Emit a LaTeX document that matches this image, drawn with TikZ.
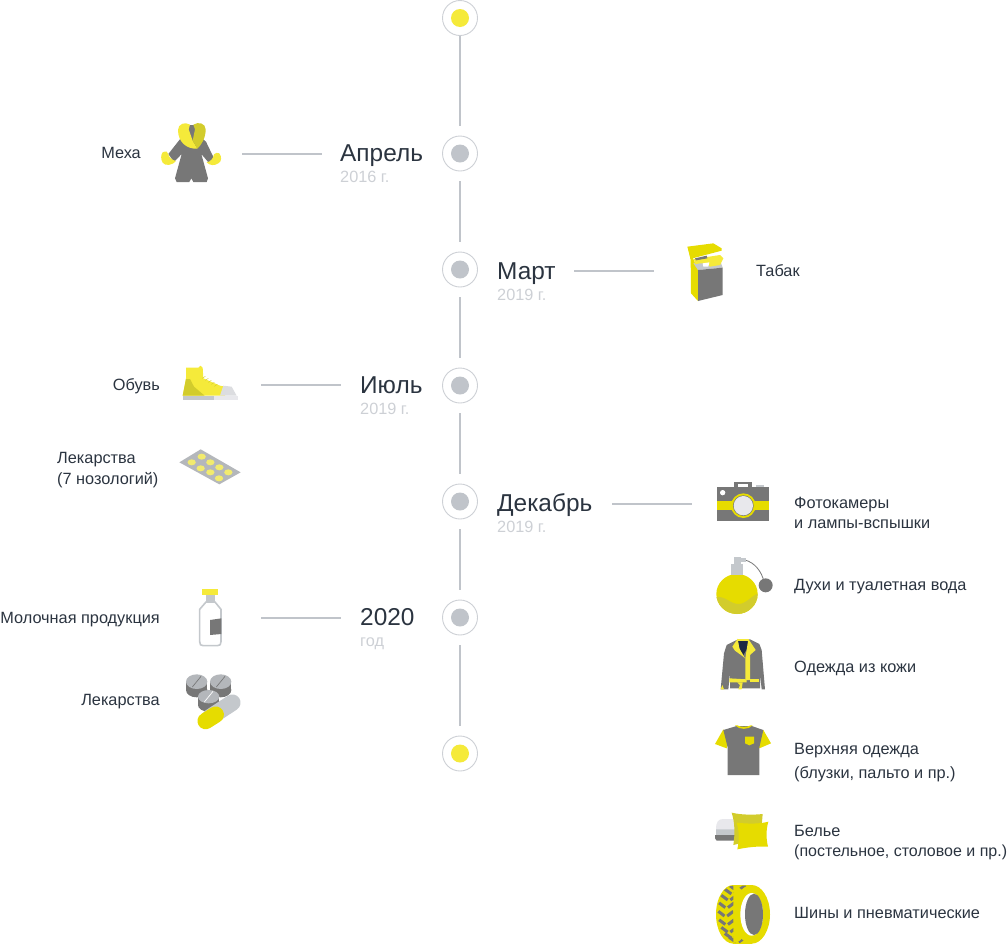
\documentclass[tikz,border=0pt]{standalone}
\usepackage{fontspec}
\setmainfont{Liberation Sans}
\definecolor{ink}{HTML}{2B3440}
\definecolor{yearc}{HTML}{CDD0D5}
\definecolor{linec}{HTML}{C0C4CA}
\definecolor{ringc}{HTML}{CDD0D5}
\definecolor{ylw}{HTML}{E6DC00}
\definecolor{ylwl}{HTML}{F5EA3A}
\definecolor{ylwd}{HTML}{D2CC2C}
\definecolor{gr}{HTML}{777777}
\definecolor{lg}{HTML}{C4C8CC}
\definecolor{mg}{HTML}{B4B7BB}
\definecolor{vlg}{HTML}{E8E8EC}
\definecolor{toe}{HTML}{DCDDE0}
\definecolor{pill}{HTML}{F2EB6E}
\definecolor{navy}{HTML}{1D2A44}
\tikzset{
  lab/.style={anchor=base west,inner sep=0pt,text=ink,font=\fontsize{16.3}{18}\selectfont},
  labr/.style={anchor=base east,inner sep=0pt,text=ink,font=\fontsize{16.3}{18}\selectfont},
  ttl/.style={anchor=base west,inner sep=0pt,text=ink,font=\fontsize{24.4}{26}\selectfont},
  yr/.style={anchor=base west,inner sep=0pt,text=yearc,font=\fontsize{16.3}{18}\selectfont},
  ring/.style={circle,draw=ringc,line width=0.9pt,fill=white,minimum size=35pt,inner sep=0pt},
  tline/.style={draw=linec,line width=2pt},
  hline/.style={draw=linec,line width=1.4pt},
  ic/.style={shift={#1},scale=0.33333}
}
\begin{document}
\begin{tikzpicture}[x=1pt,y=-1pt]
\useasboundingbox (0,0) rectangle (1007,943);
% timeline
\foreach \n/\y in {c0/18,c1/153.5,c2/269.5,c3/385.5,c4/501.5,c5/617.5,c6/753.5}{
  \node[ring] (\n) at (460,\y) {};
}
\foreach \n/\c in {c0/ylwl,c1/linec,c2/linec,c3/linec,c4/linec,c5/linec,c6/ylwl}{
  \fill[\c] (\n.center) circle[radius=9];
}
\draw[tline,shorten <=0.5pt,shorten >=10pt] (c0) -- (c1);
\draw[tline,shorten <=10pt,shorten >=10pt] (c1) -- (c2);
\draw[tline,shorten <=10pt,shorten >=10pt] (c2) -- (c3);
\draw[tline,shorten <=10pt,shorten >=10pt] (c3) -- (c4);
\draw[tline,shorten <=10pt,shorten >=10pt] (c4) -- (c5);
\draw[tline,shorten <=10pt,shorten >=10pt] (c5) -- (c6);
% titles
\node[ttl] (t1) at (340,161) {Апрель};
\node[yr] (y1) at (340,182) {2016 г.};
\node[ttl] (t2) at (497,279) {Март};
\node[yr] (y2) at (497,300) {2019 г.};
\node[ttl] (t3) at (360,393) {Июль};
\node[yr] (y3) at (360,414) {2019 г.};
\node[ttl] (t4) at (497,511) {Декабрь};
\node[yr] (y4) at (497,532) {2019 г.};
\node[ttl] (t5) at (360,625) {2020};
\node[yr] (y5) at (360,646) {год};
% connectors
\coordinate (a1) at (242,154); \coordinate (b1) at (322,154);
\coordinate (a2) at (574,271); \coordinate (b2) at (654,271);
\coordinate (a3) at (261,385); \coordinate (b3) at (341,385);
\coordinate (a4) at (612,504); \coordinate (b4) at (692,504);
\coordinate (a5) at (261,618); \coordinate (b5) at (341,618);
\foreach \i in {1,...,5}{\draw[hline] (a\i) -- (b\i);}
% labels
\node[labr] (l1) at (141,158) {Меха};
\node[lab] (l2) at (756,276) {Табак};
\node[labr] (l3) at (160,390) {Обувь};
\node[lab] (l4) at (57,463) {Лекарства};
\node[lab] (l5) at (57,484) {(7 нозологий)};
\node[labr] (l6) at (160,623) {Молочная продукция};
\node[labr] (l7) at (160,705) {Лекарства};
\node[lab] (r1) at (794,508) {Фотокамеры};
\node[lab] (r2) at (794,528) {и лампы-вспышки};
\node[lab] (r3) at (794,590) {Духи и туалетная вода};
\node[lab] (r4) at (794,672) {Одежда из кожи};
\node[lab] (r5) at (794,754) {Верхняя одежда};
\node[lab] (r6) at (794,778) {(блузки, пальто и пр.)};
\node[lab] (r7) at (794,836) {Белье};
\node[lab,font=\fontsize{16}{18}\selectfont] (r8) at (794,856) {(постельное, столовое и пр.)};
\node[lab] (r9) at (794,918) {Шины и пневматические};
% coat
\begin{scope}[ic={(150,110)}]
\fill[gr] (92,85)--(55,132)--(72,156)--(95,132)--(75,205)--(80,216)--(118,216)--(124,205)--(130,216)--(170,216)--(174,205)--(154,132)--(176,158)--(192,145)--(168,95)--(150,80)--cycle;
\fill[ylwl] (38,127) .. controls (48,122) and (55,125) .. (55,133) .. controls (57,142) and (65,150) .. (78,153) .. controls (70,165) and (45,170) .. (38,158) .. controls (32,148) and (32,135) .. (38,127) -- cycle;
\fill[ylwl] (208,130) .. controls (216,140) and (215,155) .. (205,160) .. controls (195,167) and (180,168) .. (170,157) .. controls (182,155) and (190,145) .. (192,133) .. controls (196,128) and (203,127) .. (208,130) -- cycle;
\fill[gr] (112,45) rectangle (138,95);
\fill[ylwl] (84,60) .. controls (84,42) and (105,34) .. (120,44) -- (116,58) -- (128,92) -- (142,116) .. controls (112,118) and (84,98) .. (84,60) -- cycle;
\fill[ylwd] (130,44) .. controls (145,34) and (167,40) .. (167,58) .. controls (167,84) and (155,104) .. (142,116) -- (128,92) -- (135,58) -- cycle;
\end{scope}
% shoe and blister
\begin{scope}[ic={(170,355)}]
\fill[ylwl] (48,38)--(85,38)--(92,32)--(98,38)--(100,70)--(150,92)--(165,95)--(165,122)--(38,122)--(48,70)--cycle;
\fill[ylwd] (48,72)--(38,122)--(104,122)--(72,95)--(60,72)--cycle;
\fill[toe] (160,92)--(185,95)--(200,122)--(150,122)--cycle;
\fill[lg] (38,122) rectangle (133,134);
\fill[vlg] (133,122) rectangle (205,134);
\foreach \k in {0,1,2,3,4}{\draw[ylwd,line width=.4pt] (97+9*\k,70+6*\k)--(106+9*\k,64+6*\k);}
\fill[mg] (92,283)--(212,352)--(148,388)--(28,322)--cycle;
\foreach \x/\y in {95/305,65/322,121/322,92/340,148/337,121/352,175/352,147/370}{
  \fill[pill] (\x,\y) ellipse [x radius=12.5,y radius=9];
}
\end{scope}
% bottle and pills
\begin{scope}[ic={(170,580)}]
\fill[ylwl] (97,27) rectangle (145,44);
\fill[lg] (108,44) -- (135,44) -- (135,62) -- (108,62) -- cycle;
\draw[lg,line width=1.6pt,fill=white,line join=round] (108,66) -- (135,66) -- (153,88) -- (153,185) .. controls (153,194) and (150,197) .. (142,197) -- (100,197) .. controls (92,197) and (89,194) .. (89,185) -- (89,88) -- cycle;
\fill[gr] (120,120)--(154,115)--(154,162)--(120,165)--cycle;
\foreach \x/\y/\ry/\c in {80/305/22/gr,152/305/22/gr,116/350/20/white}{
  \fill[gr] (\x,\y+25) ellipse [x radius=32,y radius=\ry];
  \fill[gr] (\x-32,\y) rectangle (\x+32,\y+25);
  \fill[mg] (\x,\y) ellipse [x radius=32,y radius=\ry];
  \draw[\c,line width=.7pt] (\x-13,\y+16)--(\x+13,\y-16);
}
\draw[lg,line width=16.5pt,line cap=round] (120,412)--(187,368);
\draw[ylw,line width=16.5pt,line cap=round] (107,423)--(137,404);
\end{scope}
% cigarette pack
\begin{scope}[ic={(670,235)}]
\fill[ylw] (54,38)--(70,72)--(84,105)--(84,198)--(63,175)--(62,75)--cycle;
\fill[lg] (70,85)--(150,75)--(158,98)--(84,105)--cycle;
\fill[gr] (84,105)--(158,98)--(158,180)--(84,198)--cycle;
\fill[ylwl] (72,72)--(150,60)--(160,70)--(150,90)--(120,95)--(110,85)--(90,85)--(75,88)--cycle;
\fill[white] (98,85)--(118,82)--(115,95)--(100,95)--cycle;
\fill[ylw] (52,35)--(130,25)--(155,40)--(155,47)--(75,68)--(62,72)--cycle;
\fill[gr] (75,70)--(110,62)--(112,70)--(78,76)--cycle;
\end{scope}
% camera and perfume
\begin{scope}[ic={(700,470)}]
\fill[gr] (103,37) rectangle (155,55);
\fill[white] (113,43) rectangle (145,50);
\fill[lg] (168,44) rectangle (192,55);
\fill[gr] (52,52) rectangle (207,152);
\fill[ylw] (52,92) rectangle (207,120);
\fill[ylw] (130,107) circle[radius=37];
\fill[gr] (130,107) circle[radius=31];
\fill[vlg] (130,107) circle[radius=29];
\fill[white] (68,68) circle[radius=8];
% perfume
\draw[gr,line width=.8pt] (135,270) .. controls (165,278) and (185,305) .. (192,335);
\fill[gr] (197,346) circle[radius=21];
\fill[lg] (103,262) rectangle (122,285);
\fill[lg] (120,265) rectangle (137,275);
\fill[ylw] (94,315) rectangle (130,345);
\fill[ylw] (111,372) ellipse [x radius=62,y radius=60];
\begin{scope}
\clip (111,372) ellipse [x radius=62,y radius=60];
\fill[ylwd] (45,382) .. controls (75,375) and (90,402) .. (115,402) .. controls (140,402) and (155,375) .. (180,368) -- (180,440) -- (45,440) -- cycle;
\end{scope}
\fill[lg] (93,282) rectangle (130,315);
\end{scope}
% jacket and shirt
\begin{scope}[ic={(700,630)}]
\fill[gr] (110,30)--(80,45)--(72,70)--(62,178)--(85,178)--(90,130)--(90,175)--(180,175)--(180,130)--(185,178)--(195,178)--(185,60)--(178,42)--(150,28)--cycle;
\fill[navy] (113,32)--(145,30)--(142,55)--(130,75)--(120,60)--cycle;
\fill[ylwl] (97,50)--(113,26)--(118,55)--(135,85)--(127,78)--(105,62)--cycle;
\fill[ylwl] (113,26)--(147,26)--(147,32)--(113,32)--cycle;
\fill[ylwl] (145,27)--(167,60)--(150,75)--(150,150)--(136,150)--(136,85)--cycle;
\fill[ylwl] (88,145)--(140,148)--(140,157)--(88,157)--cycle;
\fill[ylwl] (150,148)--(178,148)--(178,155)--(150,155)--cycle;
\fill[ylwl] (112,157)--(128,157)--(125,178)--(115,178)--(120,165)--cycle;
\fill[ylwl] (67,165)--(72,178)--(62,178)--cycle;
\fill[ylw] (70,298)--(45,342)--(80,355)--(88,330)--cycle;
\fill[ylw] (190,300)--(213,340)--(178,355)--(172,325)--cycle;
\fill[gr] (70,300)--(110,288)--(155,288)--(190,300)--(178,352)--(178,435)--(83,435)--(83,352)--cycle;
\fill[ylw] (105,286) .. controls (118,300) and (145,300) .. (158,286) -- (152,286) .. controls (142,292) and (122,292) .. (112,286) -- cycle;
\fill[ylw] (135,320)--(162,320)--(162,340)--(148,346)--(135,340)--cycle;
\end{scope}
% bedding and tyre
\begin{scope}[ic={(700,800)}]
\fill[gr] (45,105)--(105,105)--(105,122)--(50,122)--(45,115)--cycle;
\fill[lg] (48,88) rectangle (105,105);
\fill[vlg] (48,88) .. controls (48,65) and (55,57) .. (70,57) -- (105,57) -- (105,88) -- cycle;
\fill[ylwd] (95,38) .. controls (125,45) and (160,45) .. (188,42) -- (182,115) -- (100,135) .. controls (105,100) and (105,70) .. (95,38) -- cycle;
\fill[ylw] (110,68) .. controls (145,72) and (180,72) .. (205,65) .. controls (198,90) and (198,115) .. (204,140) .. controls (175,138) and (140,142) .. (112,148) .. controls (118,120) and (118,95) .. (110,68) -- cycle;
% tyre
\fill[ylw] (100,343) ellipse [x radius=52,y radius=88];
\fill[ylw] (100,255) rectangle (155,431);
\begin{scope}
\clip (100,343) ellipse [x radius=50,y radius=86] (100,257) rectangle (155,429);
\foreach \t in {-72,-54,...,72}{
  \pgfmathsetmacro{\cc}{cos(\t)}
  \pgfmathsetmacro{\yy}{343+82*sin(\t)}
  \pgfmathsetmacro{\LL}{100-47*\cc}
  \pgfmathsetmacro{\RR}{155-53*\cc}
  \pgfmathsetmacro{\MM}{(\LL+\RR)/2}
  \draw[gr,line width=3pt] (\LL+2,\yy-9) -- (\MM-4,\yy+5);
  \draw[gr,line width=3pt] (\MM+4,\yy+5) -- (\RR-2,\yy-9);
}
\end{scope}
\fill[ylw] (155,343) ellipse [x radius=55,y radius=88];
\fill[white] (155,343) ellipse [x radius=34,y radius=64];
\fill[gr] (162,343) ellipse [x radius=27,y radius=62];
\end{scope}
\end{tikzpicture}
\end{document}
